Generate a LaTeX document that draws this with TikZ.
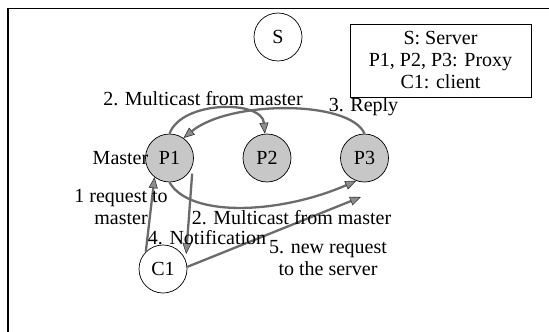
\documentclass[tikz,border=0pt]{standalone}
\usepackage{fontspec}
\setmainfont{Liberation Serif}
\usetikzlibrary{arrows.meta}
\begin{document}
\begin{tikzpicture}[x=1pt,y=-1pt,
  every node/.style={font=\fontsize{20}{22}\selectfont},
  srv/.style={circle,draw=black,line width=0.7pt,minimum size=48pt,inner sep=0pt},
  prx/.style={srv,fill=black!22},
  lbl/.style={inner sep=0pt,align=center},
  arr/.style={draw=black!58,line width=2.3pt,
    -{Triangle[length=11pt,width=9pt,fill=black!45,color=black!80,line width=0.6pt]}}]
\useasboundingbox (0,0) rectangle (549,332);
\draw[line width=1.6pt] (8,332) -- (8,8.5) -- (549,8.5);
\node[srv] (S) at (278,37) {S};
\node[draw=black,line width=0.9pt,minimum width=181pt,minimum height=73pt,align=center,inner sep=0pt]
  (leg) at (440.5,60.5) {S: Server\\P1, P2, P3: Proxy\\C1: client};
\node[prx] (P1) at (169.5,158) {P1};
\node[prx] (P2) at (267,158) {P2};
\node[prx] (P3) at (364.5,158) {P3};
\node[srv] (C1) at (163,269) {C1};
\coordinate (rq) at (361,197);
% arrows
\draw[arr] (P1.90) .. controls (182,100) and (262,100) .. (P2.95);
\draw[arr] (P3.90) .. controls (350,100) and (230,100) .. (P1.55);
\draw[arr] (P1.270) .. controls (190,218) and (280,214) .. (P3.250);
\draw[arr] (C1.135) -- (P1.232);
\draw[arr] ([xshift=4pt]P1.-40) -- ([xshift=4pt]C1.38);
\draw[arr] (C1.5) -- (rq);
% labels
\node[lbl] (lMaster) at (120.5,158) {Master};
\node[lbl] (lm1) at (203,99) {2. Multicast from master};
\node[lbl] (lrep) at (363.5,107) {3. Reply};
\node[lbl] (lreq) at (121,206.5) {1 request to\\master};
\node[lbl] (lm2) at (291.5,218) {2. Multicast from master};
\node[lbl] (lnot) at (207,238) {4. Notification};
\node[lbl] (lnew) at (328,258) {5. new request\\to the server};
\end{tikzpicture}
\end{document}
